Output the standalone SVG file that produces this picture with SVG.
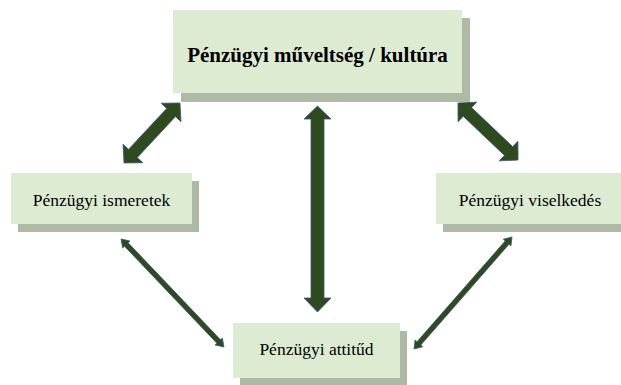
<svg xmlns="http://www.w3.org/2000/svg" width="621" height="385" viewBox="0 0 621 385">
<style>
.face{fill:#deebd3;}
.shadow{fill:#aeb9a6;}
.t{fill:#000;text-anchor:middle;}
.arr{fill:#2f4a1f;stroke:#3b5680;stroke-width:0.8;stroke-linejoin:miter;}
</style>
<rect width="621" height="385" fill="#ffffff"/>
<g id="node-kultura">
<rect class="shadow" x="181" y="18" width="289" height="84"/>
<rect class="face" x="173" y="10" width="289" height="83"/>
<text class="t" x="317.5" y="62" font-family="'Liberation Serif', 'Times New Roman', serif" font-size="21" font-weight="bold">Pénzügyi műveltség / kultúra</text>
</g>
<g id="node-ismeretek">
<rect class="shadow" x="18" y="181" width="181" height="51"/>
<rect class="face" x="11" y="173" width="181" height="51"/>
<text class="t" x="101.5" y="206" font-family="'Liberation Serif', 'Times New Roman', serif" font-size="17.5">Pénzügyi ismeretek</text>
</g>
<g id="node-viselkedes">
<rect class="shadow" x="443" y="181" width="190" height="51"/>
<rect class="face" x="436" y="173" width="190" height="51"/>
<text class="t" x="530" y="206" font-family="'Liberation Serif', 'Times New Roman', serif" font-size="17.5">Pénzügyi viselkedés</text>
</g>
<g id="node-attitud">
<rect class="shadow" x="240" y="331" width="167" height="56"/>
<rect class="face" x="233" y="323" width="167" height="55"/>
<text class="t" x="316.5" y="355" font-family="'Liberation Serif', 'Times New Roman', serif" font-size="17.5">Pénzügyi attitűd</text>
</g>
<g id="connectors">
<polygon class="arr" points="317.5,106 331,119 324,119 324,298 331,298 317.5,312 304,298 311,298 311,119 304,119"/>
<polygon class="arr" transform="translate(152,133) rotate(-47)" points="-41,0 -28,-13.5 -28,-6 28,-6 28,-13.5 41,0 28,13.5 28,6 -28,6 -28,13.5"/>
<polygon class="arr" transform="translate(488,131.5) rotate(43.5)" points="-41.4,0 -28.4,-13.5 -28.4,-6 28.4,-6 28.4,-13.5 41.4,0 28.4,13.5 28.4,6 -28.4,6 -28.4,13.5"/>
<polygon class="arr" transform="translate(172.5,293) rotate(46.4)" points="-74.6,0 -67,-5 -67,-2.5 67,-2.5 67,-5 74.6,0 67,5 67,2.5 -67,2.5 -67,5"/>
<polygon class="arr" transform="translate(463,293) rotate(131.2)" points="-74.4,0 -67,-5 -67,-2.5 67,-2.5 67,-5 74.4,0 67,5 67,2.5 -67,2.5 -67,5"/>
</g>
</svg>
